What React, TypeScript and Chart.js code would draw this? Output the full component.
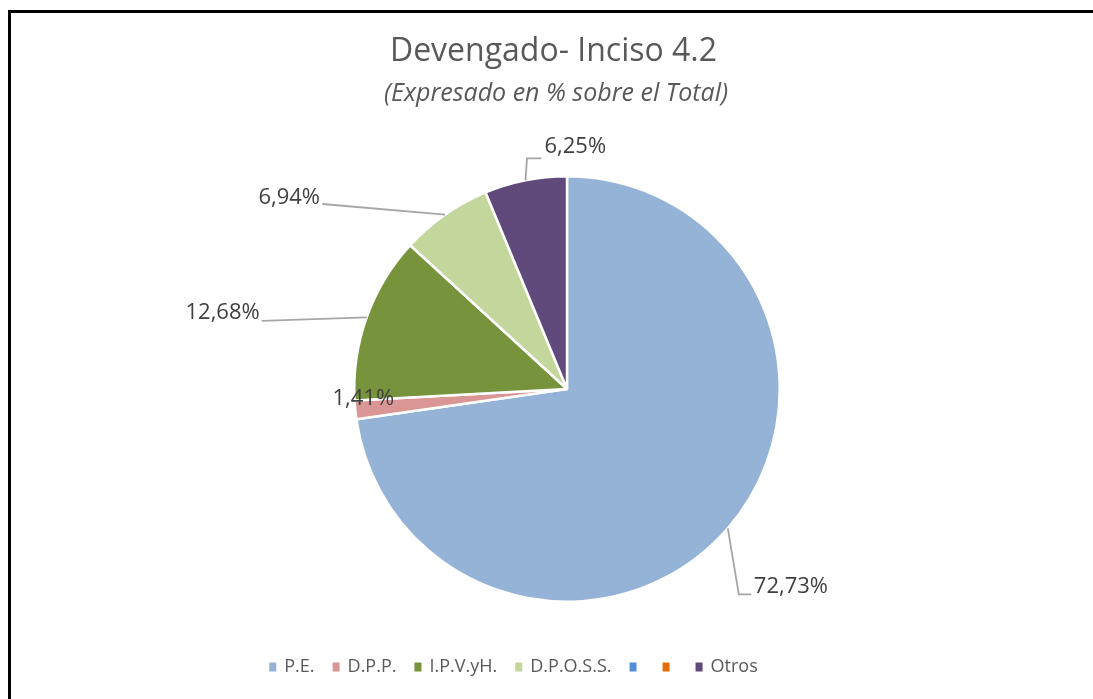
import React, { useEffect, useRef } from "react";
import { Chart, registerables } from "chart.js";

Chart.register(...registerables);

// ---- Data ----
const categories = ["P.E.", "D.P.P.", "I.P.V.yH.", "D.P.O.S.S.", "", "", "Otros"];
const values = [72.73, 1.41, 12.68, 6.94, 0, 0, 6.25];
const sliceColors = ["#95B3D7", "#D99694", "#77933C", "#C3D69B", "#558ED5", "#E46C0A", "#604A7B"];

const titleText = "Devengado- Inciso 4.2";
const subtitleText = "(Expresado en % sobre el Total)";

// ---- Label placement (offsets from slice edge at mid angle) ----
type Placement = { text: [number, number]; align: CanvasTextAlign; line: [number, number][] } | null;
const labelPlacements: Placement[] = [
  { text: [26, 58], align: "left", line: [[11, 66], [23.5, 66]] },
  { text: [8, -11], align: "center", line: [] },
  { text: [-107, -4.5], align: "right", line: [[-105, 3.6]] },
  { text: [-125, -16.5], align: "right", line: [[-122.7, -10.7]] },
  null,
  null,
  { text: [19, -34], align: "left", line: [[1.5, -22], [16, -22]] },
];

const fmt = (v: number) => v.toFixed(2).replace(".", ",") + "%";

const FONT = '"Open Sans", "Liberation Sans", sans-serif';

const decorPlugin = {
  id: "decor",
  afterDraw(chart: any) {
    const ctx: CanvasRenderingContext2D = chart.ctx;
    ctx.save();
    // Title
    ctx.fillStyle = "#595959";
    ctx.textAlign = "center";
    ctx.textBaseline = "middle";
    ctx.font = `32px ${FONT}`;
    ctx.fillText(titleText, 553.5, 52);
    ctx.font = `italic 25px ${FONT}`;
    ctx.fillText(subtitleText, 556, 94);

    // Slice labels + leader lines
    const meta = chart.getDatasetMeta(0);
    meta.data.forEach((arc: any, i: number) => {
      const p = labelPlacements[i];
      if (!p || !values[i]) return;
      const { x, y, startAngle, endAngle, outerRadius } = arc.getProps(
        ["x", "y", "startAngle", "endAngle", "outerRadius"],
        true
      );
      const mid = (startAngle + endAngle) / 2;
      const ex = x + Math.cos(mid) * outerRadius;
      const ey = y + Math.sin(mid) * outerRadius;
      if (p.line.length) {
        ctx.strokeStyle = "#A6A6A6";
        ctx.lineWidth = 1.8;
        ctx.beginPath();
        ctx.moveTo(ex, ey);
        p.line.forEach(([dx, dy]) => ctx.lineTo(ex + dx, ey + dy));
        ctx.stroke();
      }
      ctx.fillStyle = "#404040";
      ctx.font = `22px ${FONT}`;
      ctx.textAlign = p.align;
      ctx.textBaseline = "middle";
      ctx.fillText(fmt(values[i]), ex + p.text[0], ey + p.text[1]);
    });

    // Legend
    ctx.font = `18px ${FONT}`;
    ctx.textAlign = "left";
    ctx.textBaseline = "middle";
    const markerW = 7;
    const gap1 = 8;
    const gap2 = 18;
    const widths = categories.map((c) => ctx.measureText(c).width);
    let total = 0;
    widths.forEach((w, i) => {
      total += markerW + gap1 + w + (i < widths.length - 1 ? gap2 : 0);
    });
    let lx = 513.5 - total / 2;
    const ly = 667;
    categories.forEach((c, i) => {
      ctx.fillStyle = sliceColors[i];
      ctx.fillRect(lx, ly - 4.5, markerW, 9);
      ctx.fillStyle = "#595959";
      ctx.fillText(c, lx + markerW + gap1, ly);
      lx += markerW + gap1 + widths[i] + gap2;
    });
    ctx.restore();
  },
};

export default function App() {
  const canvasRef = useRef<HTMLCanvasElement | null>(null);

  useEffect(() => {
    if (!canvasRef.current) return;
    const chart = new Chart(canvasRef.current, {
      type: "pie",
      data: {
        labels: categories,
        datasets: [
          {
            data: values,
            backgroundColor: sliceColors,
            borderColor: "#FFFFFF",
            borderWidth: 2.5,
          },
        ],
      },
      options: {
        responsive: false,
        animation: false,
        devicePixelRatio: 1,
        layout: { padding: { top: 175, bottom: 96, left: 298, right: 257 } },
        plugins: {
          legend: { display: false },
          title: { display: false },
          tooltip: { enabled: false },
        },
      },
      plugins: [decorPlugin],
    });
    return () => chart.destroy();
  }, []);

  return (
    <div
      style={{
        position: "fixed",
        left: 0,
        top: 0,
        width: 1093,
        height: 699,
        overflow: "hidden",
        background: "#FFFFFF",
      }}
    >
      <div
        style={{
          position: "absolute",
          left: 8,
          top: 10,
          width: 1200,
          height: 800,
          border: "3px solid #000000",
          boxSizing: "border-box",
        }}
      />
      <canvas
        ref={canvasRef}
        width={1093}
        height={699}
        style={{ position: "absolute", left: 0, top: 0, width: 1093, height: 699 }}
      />
    </div>
  );
}
